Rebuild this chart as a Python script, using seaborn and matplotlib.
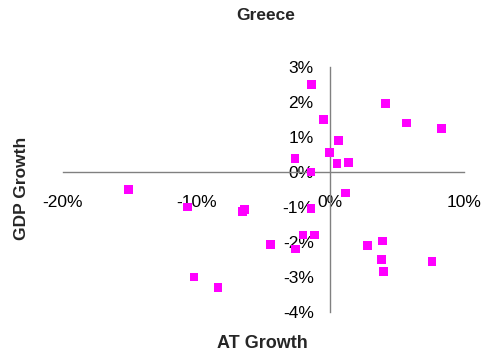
import matplotlib
matplotlib.use("Agg")
import matplotlib.pyplot as plt
from matplotlib.ticker import FuncFormatter
import seaborn as sns
import pandas as pd

# AT growth vs GDP growth, Greece (percent)
at_growth = [-1.4, -0.5, 4.1, 5.7, 8.3, 0.6, -0.05, 0.5, 1.35, -2.65, -1.45,
             1.15, -1.45, -2.05, -1.2, -2.6, 2.8, 3.9, 3.85, 4.0, 7.6,
             -15.1, -10.7, -6.6, -6.4, -4.5, -10.2, -8.4]
gdp_growth = [2.5, 1.5, 1.95, 1.4, 1.25, 0.9, 0.55, 0.25, 0.27, 0.38, 0.0,
              -0.6, -1.05, -1.8, -1.8, -2.2, -2.1, -1.97, -2.5, -2.85, -2.55,
              -0.5, -1.0, -1.12, -1.08, -2.08, -3.0, -3.3]
x_ticks = [-20, -10, 0, 10]
y_ticks = [-4, -3, -2, -1, 0, 1, 2, 3]

df = pd.DataFrame({"AT Growth": at_growth, "GDP Growth": gdp_growth})

sns.set_style("white")
plt.rcParams["font.family"] = ["Liberation Sans", "DejaVu Sans"]

W, H = 487, 360
fig = plt.figure(figsize=(W / 100, H / 100), dpi=100)
ax = fig.add_axes([63 / W, 1 - 312 / H, (464 - 63) / W, (312 - 67) / H])

sns.scatterplot(data=df, x="AT Growth", y="GDP Growth", ax=ax, marker="s",
                color="#FF00FF", edgecolor="none", s=40, zorder=3, clip_on=False)

ax.set_xlim(-20, 10)
ax.set_ylim(-4, 3)
ax.set_xticks(x_ticks)
ax.set_yticks(y_ticks)
pct = FuncFormatter(lambda v, _: f"{v:.0f}%")
ax.xaxis.set_major_formatter(pct)
ax.yaxis.set_major_formatter(pct)

for side in ["top", "right"]:
    ax.spines[side].set_visible(False)
ax.spines["left"].set_position(("data", 0))
ax.spines["bottom"].set_position(("data", 0))
for side in ["left", "bottom"]:
    ax.spines[side].set_color("#808080")
    ax.spines[side].set_linewidth(1.0)

ax.tick_params(axis="x", direction="out", length=4.5, width=1, color="#808080",
               pad=12, labelsize=12.5, labelcolor="black")
ax.tick_params(axis="y", direction="out", length=4, width=1, color="#808080",
               pad=8, labelsize=12.5, labelcolor="black")
ax.set_xlabel("")
ax.set_ylabel("")

fig.text(266 / W, 1 - 16 / H, "Greece", ha="center", va="center",
         fontsize=12.5, fontweight="bold")
fig.text(22 / W, 1 - 188 / H, "GDP Growth", ha="center", va="center",
         rotation=90, fontsize=12.5, fontweight="bold")
fig.text(262 / W, 1 - 344 / H, "AT Growth", ha="center", va="center",
         fontsize=13, fontweight="bold")

fig.savefig("out.png", dpi=100)
plt.close(fig)
